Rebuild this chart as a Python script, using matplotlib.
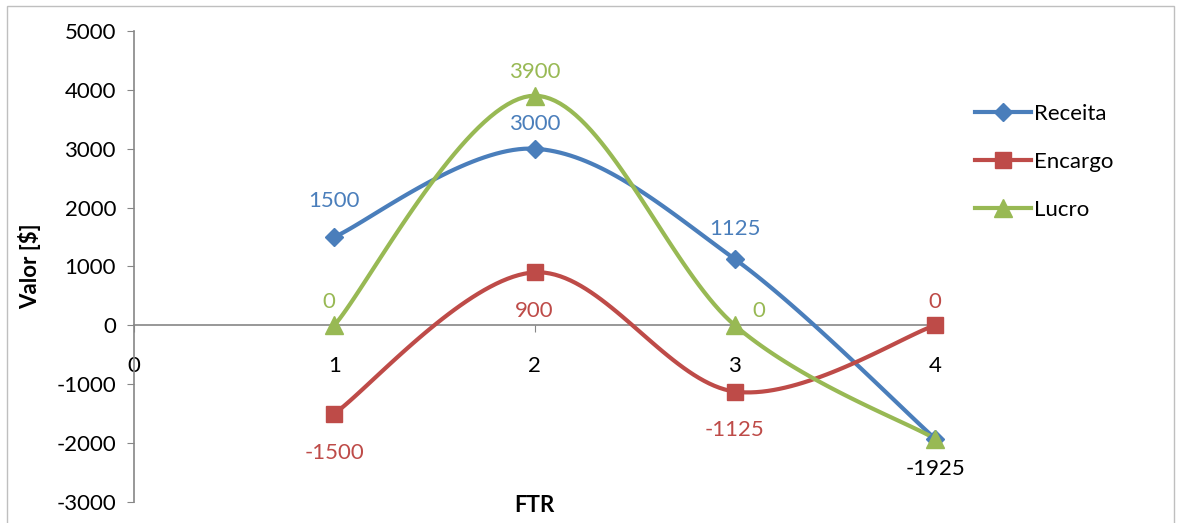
import numpy as np
import matplotlib.pyplot as plt

plt.rcParams['font.family'] = ['Lato', 'DejaVu Sans']
plt.rcParams['axes.unicode_minus'] = False

ftr = [1, 2, 3, 4]
receita = [1500, 3000, 1125, -1925]
encargo = [-1500, 900, -1125, 0]
lucro = [0, 3900, 0, -1925]

colors = {'Receita': '#4A7EBB', 'Encargo': '#BE4B48', 'Lucro': '#98B954'}
markers = {'Receita': ('D', 9), 'Encargo': ('s', 12), 'Lucro': ('^', 13)}
# label offsets in points (dx, dy)
label_pos = {
    'Receita': [(0, 26), (0, 18), (0, 22), (0, -22)],
    'Encargo': [(0, -28), (0, -28), (0, -28), (0, 17)],
    'Lucro': [(-4, 17), (0, 17), (17, 10), None],
}


def smooth(xs, ys, n=40):
    # excel-style smoothed line: cubic bezier segments, tangents from neighbours / 6
    p = np.column_stack([xs, ys]).astype(float)
    ext = np.vstack([p[0], p, p[-1]])
    out = []
    t = np.linspace(0, 1, n)[:, None]
    for i in range(len(p) - 1):
        p0, p3 = p[i], p[i + 1]
        c1 = p0 + (ext[i + 2] - ext[i]) / 6
        c2 = p3 - (ext[i + 3] - ext[i + 1]) / 6
        seg = ((1 - t) ** 3 * p0 + 3 * (1 - t) ** 2 * t * c1
               + 3 * (1 - t) * t ** 2 * c2 + t ** 3 * p3)
        out.append(seg if i == 0 else seg[1:])
    return np.vstack(out)


fig = plt.figure(figsize=(11.78, 5.23), dpi=100)
fig.patches.append(plt.Rectangle((0.006, -0.01), 0.991, 0.998, transform=fig.transFigure,
                                 fill=False, edgecolor='#BFBFBF', linewidth=1))
ax = fig.add_axes([0.1138, 0.0402, 0.6800, 0.9006])

for name, vals in [('Receita', receita), ('Encargo', encargo), ('Lucro', lucro)]:
    c = colors[name]
    curve = smooth(ftr, vals)
    m, ms = markers[name]
    ax.plot(curve[:, 0], curve[:, 1], color=c, lw=3, solid_capstyle='round',
            clip_on=False, zorder=3)
    ax.plot(ftr, vals, ls='none', marker=m, ms=ms, color=c, clip_on=False, zorder=4)
    ax.plot([], [], color=c, lw=3, marker=m, ms=ms, label=name)
    for x, v, off in zip(ftr, vals, label_pos[name]):
        if off is None:
            continue
        tc = 'black' if v == -1925 else c
        ax.annotate(f'{v}', (x, v), xytext=off, textcoords='offset points',
                    ha='center', va='center', fontsize=16, color=tc, zorder=5)

ax.set_xlim(0, 4)
ax.set_ylim(-3000, 5000)
ax.set_yticks(range(-3000, 5001, 1000))
ax.set_xticks([0, 1, 2, 3, 4])
ax.spines['top'].set_visible(False)
ax.spines['right'].set_visible(False)
ax.spines['bottom'].set_position(('data', 0))
for s in ('left', 'bottom'):
    ax.spines[s].set_color('#868686')
    ax.spines[s].set_linewidth(1.2)
ax.tick_params(axis='y', direction='out', length=5, color='#868686', labelsize=16, pad=8)
ax.tick_params(axis='x', direction='out', length=5, color='#868686', labelsize=16, pad=17)
ax.set_ylabel('Valor [$]', fontsize=16, fontweight='bold', labelpad=11)
ax.set_xlabel('FTR', fontsize=16, fontweight='bold', va='center')
ax.xaxis.set_label_coords(0.5, -0.007)

ax.legend(loc='upper left', bbox_to_anchor=(1.05, 0.845), frameon=False, fontsize=16,
          handlelength=2.5, handletextpad=0.15, labelspacing=1.25, borderpad=0,
          borderaxespad=0)

fig.savefig('out.png', dpi=100)
